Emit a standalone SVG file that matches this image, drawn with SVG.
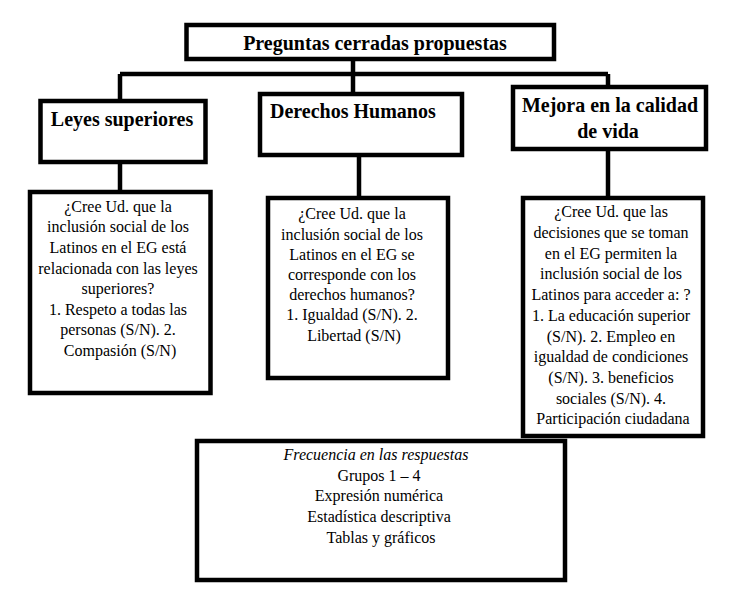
<svg xmlns="http://www.w3.org/2000/svg" width="755" height="603" viewBox="0 0 755 603">
<style>
.box{fill:#fff;stroke:#000;stroke-width:4.5}
.conn{fill:none;stroke:#000;stroke-width:4.5}
.h{font-family:"Liberation Serif","Times New Roman",serif;font-weight:bold;font-size:20px;fill:#000}
.b{font-family:"Liberation Serif","Times New Roman",serif;font-size:16px;fill:#000;text-anchor:middle}
.it{font-style:italic}
</style>
<rect width="755" height="603" fill="#fff"/>
<g id="connectors">
<path class="conn" d="M353,59 V94"/>
<path class="conn" d="M120,74 H608"/>
<path class="conn" d="M120,74 V101"/>
<path class="conn" d="M608,74 V87"/>
<path class="conn" d="M120,162 V192"/>
<path class="conn" d="M359,155 V198"/>
<path class="conn" d="M608,149 V198"/>
</g>
<g id="title">
<rect class="box" x="186.5" y="25" width="367.5" height="34"/>
<text class="h" x="375" y="50" text-anchor="middle">Preguntas cerradas propuestas</text>
</g>
<g id="leyes">
<rect class="box" x="40.5" y="101" width="165" height="61"/>
<text class="h" x="122" y="126" text-anchor="middle">Leyes superiores</text>
</g>
<g id="derechos">
<rect class="box" x="260" y="94" width="202" height="61"/>
<text class="h" x="270" y="118">Derechos Humanos</text>
</g>
<g id="mejora">
<rect class="box" x="513" y="87" width="193" height="62"/>
<text class="h" x="610" y="111.5" text-anchor="middle">Mejora en la calidad</text>
<text class="h" x="608" y="138" text-anchor="middle">de vida</text>
</g>
<g id="q-leyes">
<rect class="box" x="30" y="192" width="180.5" height="201"/>
<text class="b" y="211.7">
<tspan x="120">¿Cree Ud. que la</tspan>
<tspan x="120" dy="20.6">inclusión social de los</tspan>
<tspan x="120" dy="20.6">Latinos en el EG está</tspan>
<tspan x="120" dy="20.6">relacionada con las leyes</tspan>
<tspan x="120" dy="20.6">superiores?</tspan>
<tspan x="120" dy="20.6">1. Respeto a todas las</tspan>
<tspan x="120" dy="20.6">personas (S/N). 2.</tspan>
<tspan x="120" dy="20.6">Compasión (S/N)</tspan>
</text>
</g>
<g id="q-derechos">
<rect class="box" x="268" y="198" width="180" height="180"/>
<text class="b" y="219.3">
<tspan x="354">¿Cree Ud. que la</tspan>
<tspan x="354" dy="20.2">inclusión social de los</tspan>
<tspan x="354" dy="20.2">Latinos en el EG se</tspan>
<tspan x="354" dy="20.2">corresponde con los</tspan>
<tspan x="354" dy="20.2">derechos humanos?</tspan>
<tspan x="354" dy="20.2">1. Igualdad (S/N). 2.</tspan>
<tspan x="354" dy="20.2">Libertad (S/N)</tspan>
</text>
</g>
<g id="q-mejora">
<rect class="box" x="523" y="198" width="180" height="238"/>
<text class="b" y="217.3">
<tspan x="613">¿Cree Ud. que las</tspan>
<tspan x="613" dy="20.7">decisiones que se toman</tspan>
<tspan x="613" dy="20.7">en el EG permiten la</tspan>
<tspan x="613" dy="20.7">inclusión social de los</tspan>
<tspan x="613" dy="20.7">Latinos para acceder a: ?</tspan>
<tspan x="613" dy="20.7">1. La educación superior</tspan>
<tspan x="613" dy="20.7">(S/N). 2. Empleo en</tspan>
<tspan x="613" dy="20.7">igualdad de condiciones</tspan>
<tspan x="613" dy="20.7">(S/N). 3. beneficios</tspan>
<tspan x="613" dy="20.7">sociales (S/N). 4.</tspan>
<tspan x="613" dy="20.7">Participación ciudadana</tspan>
</text>
</g>
<g id="frecuencia">
<rect class="box" x="197" y="441" width="368" height="139"/>
<text class="b" y="460">
<tspan x="378" class="it">Frecuencia en las respuestas</tspan>
<tspan x="381" dy="20.7">Grupos 1 – 4</tspan>
<tspan x="381" dy="20.7">Expresión numérica</tspan>
<tspan x="381" dy="20.7">Estadística descriptiva</tspan>
<tspan x="381" dy="20.7">Tablas y gráficos</tspan>
</text>
</g>
</svg>
